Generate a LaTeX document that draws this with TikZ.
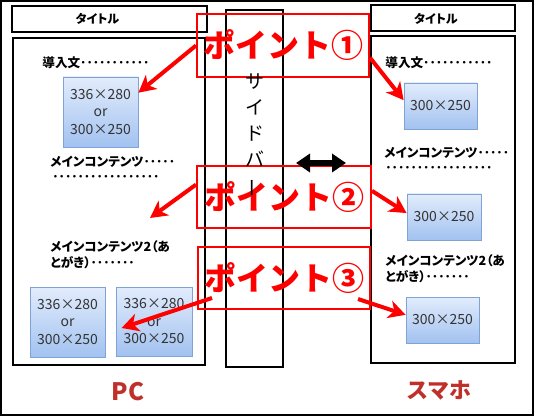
\documentclass[tikz,border=0pt]{standalone}
\usepackage{fontspec}
\setmainfont{Noto Sans CJK JP}[RawFeature=+palt]
\newfontfamily\jpfix{Noto Sans CJK JP}
\usetikzlibrary{arrows.meta,calc,shadows}
\definecolor{adtop}{RGB}{226,236,252}
\definecolor{adbot}{RGB}{162,194,240}
\definecolor{adline}{RGB}{128,163,214}
\definecolor{lbl}{RGB}{192,48,42}

\begin{document}
\begin{tikzpicture}[x=0.5pt,y=-0.5pt,>=Stealth,font=\bfseries]
\tikzstyle{frame}=[draw,line width=0.7pt,inner sep=0pt]
\tikzstyle{ad}=[draw=adline,top color=adtop,bottom color=adbot,align=center,inner sep=0pt,font=\fontsize{7}{8.75}\selectfont\mdseries,text=black!80,drop shadow={opacity=0.25,shadow xshift=0.6pt,shadow yshift=-0.6pt}]
\tikzstyle{pt}=[draw=red,line width=1pt,text=red,inner sep=0pt,font=\jpfix\fontsize{16}{18}\selectfont\bfseries]
\tikzstyle{txt}=[anchor=west,align=left,inner sep=0pt,font=\fontsize{6.3}{8}\selectfont\bfseries]
\tikzstyle{ttl}=[font=\fontsize{6}{7}\selectfont\bfseries]
\tikzstyle{ra}=[draw=red,line width=2pt,-{Stealth[length=8.5pt,width=9pt,inset=2.5pt]}]
\useasboundingbox (0,0) rectangle (534,416);
\draw[line width=1pt] (1,1) rectangle (533,415);

\node[frame,line width=1pt,minimum width=97.5pt,minimum height=13pt] (pctitle) at (109.5,19) {};
\node[ttl] (pctitletxt) at (97.5,19) {タイトル};
\node[frame,minimum width=96pt,minimum height=163.5pt] (pcmain) at (109,201.5) {};
\node[frame,minimum width=28.5pt,minimum height=178.5pt] (side) at (254.5,188.5) {};
\node[frame,line width=1pt,minimum width=72pt,minimum height=13pt] (sptitle) at (443,18) {};
\node[ttl] (sptitletxt) at (436,19) {タイトル};
\node[frame,minimum width=72pt,minimum height=163.5pt] (spmain) at (443,199.5) {};

\node[txt] (pcintro) at (42,63) {導入文･･･････････};
\node[ad,minimum width=37.5pt,minimum height=35pt] (pcad1) at (100.5,112) {336×280\\or\\300×250};
\node[txt] (pcmain1) at (50,162) {メインコンテンツ･････};
\node[txt] (pcdots) at (52,178) {･････････････････};
\node[txt] (pcmain2) at (50,255) {メインコンテンツ2（あ\\とがき）･･･････};
\node[ad,minimum width=37.5pt,minimum height=35pt] (pcad2) at (67.5,322) {336×280\\or\\300×250};
\node[ad,minimum width=38pt,minimum height=34.5pt] (pcad3) at (154,321.5) {336×280\\or\\300×250};
\coordinate (pcgap) at (150,218);

\node[txt] (spintro) at (385,63) {導入文･･･････････};
\node[ad,minimum width=36.5pt,minimum height=23pt] (spad1) at (440.5,106) {300×250};
\node[txt] (spmain1) at (384,153) {メインコンテンツ･････};
\node[txt] (spdots) at (385,169) {･････････････････};
\node[ad,minimum width=37pt,minimum height=23pt] (spad2) at (444,217) {300×250};
\node[txt] (spmain2) at (385,268.5) {メインコンテンツ2（あ\\とがき）･･･････};
\node[ad,minimum width=36.5pt,minimum height=23pt] (spad3) at (442.5,320) {300×250};

\node[pt,minimum width=86pt,minimum height=31.5pt] (p1) at (283,45.5) {ポイント①};
\node[pt,minimum width=87pt,minimum height=31pt] (p2) at (284,197) {ポイント②};
\node[pt,minimum width=86pt,minimum height=31pt] (p3) at (284,278) {ポイント③};
\node[anchor=north,align=center,inner sep=0pt,font=\jpfix\fontsize{9.5}{13}\selectfont\mdseries] (sidetxt) at (255,73) {サ\\イ\\ド\\バ\\\smash{\rotatebox[origin=c]{90}{ー}}};

\coordinate (wl) at (296,163);
\coordinate (wr) at (346,163);
\draw[line width=3pt,{Triangle[length=7pt,width=9pt]}-{Triangle[length=7pt,width=9pt]}] (wl) -- (wr);

\draw[ra] (p1.west) -- (pcad1.27);
\draw[ra] (p1.-8) -- (spad1.171);
\draw[ra] (p2.172) -- (pcgap);
\draw[ra] (p2.4) -- (spad2.174);
\draw[ra] ([shift={(15,-12)}]p3.south west) -- ([shift={(6,6.5)}]pcad3.west);
\draw[ra] ([shift={(-13,-11)}]p3.south east) -- (spad3.172);

\node[text=lbl,font=\fontsize{12}{14}\selectfont\bfseries] (pclbl) at (128,392) {PC};
\node[text=lbl,font=\jpfix\fontsize{11}{13}\selectfont\bfseries] (splbl) at (439,390) {スマホ};
\end{tikzpicture}
\end{document}
